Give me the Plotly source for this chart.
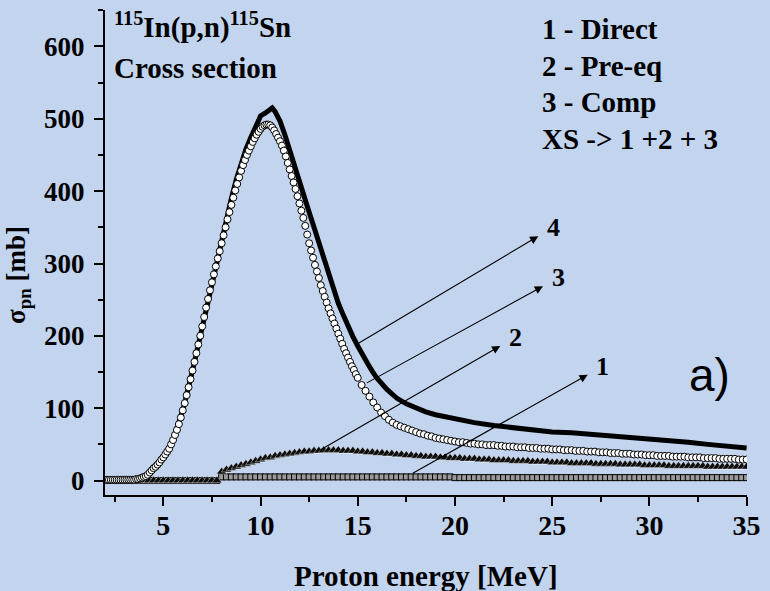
import numpy as np
import plotly.graph_objects as go

# ---------------- data ----------------
# Compound (3): 0.1 MeV steps 2.0-15.0, then 0.2 MeV steps 15.2-35.0
comp_energy = list(np.round(np.arange(2.0, 15.0001, 0.1), 2)) + list(np.round(np.arange(15.2, 35.0001, 0.2), 2))
comp_xs = [
    1, 1, 1, 1, 1, 1, 1, 1, 1, 1,
    1, 1, 1, 1, 1, 1, 2, 2, 3, 4,
    5, 6, 8, 11, 14, 17, 19, 22, 25, 29,
    32, 36, 40, 44, 50, 56, 63, 70, 78, 87,
    97, 107, 118, 129, 140, 152, 164, 176, 188, 200,
    213, 226, 239, 251, 263, 274, 285, 296, 307, 317,
    328, 339, 350, 361, 371, 381, 391, 401, 410, 419,
    428, 436, 443, 450, 456, 462, 468, 473, 478, 482,
    486, 489, 491, 492, 492, 491, 488, 484, 479, 474,
    469, 463, 456, 448, 439, 430, 421, 412, 403, 393,
    383, 373, 363, 352, 340, 328, 318, 308, 298, 289,
    280, 270, 262, 254, 246, 238, 231, 224, 217, 210,
    203, 196, 189, 182, 176, 170, 164, 158, 153, 147,
    142,
    132, 124, 116, 108, 101, 94, 89, 84, 80, 77,
    75, 73, 71, 69, 67, 65, 64, 62, 61, 59,
    58, 57, 56, 55, 54, 53, 53, 52, 51, 51,
    50, 50, 49, 49, 49, 48, 48, 47, 47, 47,
    46, 46, 46, 45, 45, 45, 44, 44, 44, 43,
    43, 43, 42, 42, 42, 41, 41, 41, 40, 40,
    40, 39, 39, 39, 38, 38, 38, 37, 37, 37,
    36, 36, 36, 35, 35, 35, 34, 34, 34, 34,
    33, 33, 33, 33, 32, 32, 32, 32, 31, 31,
    31, 31, 30, 30, 30, 30, 30, 29, 29, 29,
]

# Direct (1) and Pre-equilibrium (2): 0.25 MeV steps 2.0-35.0
grid_energy = list(np.round(np.arange(2.0, 35.0001, 0.25), 2))
preeq_xs = [
    0, 0, 0, 0, 0, 0, 0, 0, 0, 0,
    0, 0, 0, 0, 0, 0, 0, 0, 0, 0,
    0, 0, 0, 0, 12, 15, 17, 19, 21, 23,
    25, 27, 29, 31, 32, 34, 35, 36, 37, 38,
    39, 40, 40, 41, 41, 42, 42, 42, 42, 41,
    41, 41, 40, 40, 39, 39, 38, 38, 37, 37,
    36, 36, 35, 35, 34, 34, 33, 33, 33, 32,
    32, 31, 31, 31, 30, 30, 30, 29, 29, 29,
    28, 28, 28, 28, 27, 27, 27, 27, 26, 26,
    26, 26, 25, 25, 25, 25, 24, 24, 24, 24,
    24, 23, 23, 23, 23, 23, 22, 22, 22, 22,
    22, 21, 21, 21, 21, 21, 20, 20, 20, 20,
    20, 20, 20, 20, 19, 19, 19, 19, 19, 19,
    19, 19, 19,
]
direct_xs = [
    0, 0, 0, 0, 0, 0, 0, 0, 0, 0,
    0, 0, 0, 0, 0, 0, 0, 0, 0, 0,
    0, 0, 0, 0, 5, 5, 5, 5, 5, 5,
    5, 5, 5, 5, 5, 5, 5, 5, 5, 5,
    5, 5, 5, 5, 5, 5, 5, 5, 5, 5,
    5, 5, 5, 5, 5, 5, 5, 5, 5, 5,
    5, 5, 5, 5, 5, 5, 5, 5, 5, 5,
    5, 5, 4, 4, 4, 4, 4, 4, 4, 4,
    4, 4, 4, 4, 4, 4, 4, 4, 4, 4,
    4, 4, 4, 4, 4, 4, 4, 4, 4, 4,
    4, 4, 4, 4, 4, 4, 4, 4, 4, 4,
    4, 4, 4, 4, 4, 4, 4, 4, 4, 4,
    4, 4, 4, 4, 4, 4, 4, 4, 4, 4,
    4, 4, 4,
]

# Total XS (4)
total_energy = [2.0, 3.0, 3.5, 4.0, 4.5, 5.0, 5.5, 6.0, 6.5, 7.0, 7.5, 8.0, 8.25, 8.5, 8.75,
                9.0, 9.25, 9.5, 9.75, 10.0, 10.25, 10.5, 10.6, 10.75, 11.0, 11.25, 11.5, 11.75,
                12.0, 12.25, 12.5, 12.75, 13.0, 13.25, 13.5, 13.75, 14.0, 14.25, 14.5, 14.75,
                15.0, 15.25, 15.5, 15.75, 16.0, 16.5, 17.0, 17.5, 18.0, 18.5, 19.0, 20.0, 21.0,
                22.0, 23.0, 24.0, 25.0, 26.0, 27.0, 28.0, 29.0, 30.0, 31.0, 32.0, 33.0, 34.0, 35.0]
total_xs = [1, 1, 1, 4, 17, 32, 56, 97, 152, 213, 274, 330, 358, 390, 416,
            440, 458, 474, 490, 504, 508, 514, 515, 510, 497, 478, 456, 432,
            413, 392, 371, 350, 329, 306, 284, 263, 245, 229, 213, 199,
            186, 173, 162, 151, 141, 126, 114, 106, 100, 95, 91, 85, 80,
            76, 73, 70, 67, 66, 64, 62, 60, 58, 56, 53, 50, 48, 45]

x_ticks = [5, 10, 15, 20, 25, 30, 35]
y_ticks = [0, 100, 200, 300, 400, 500, 600]

assert len(comp_energy) == len(comp_xs), (len(comp_energy), len(comp_xs))
assert len(grid_energy) == len(preeq_xs) == len(direct_xs), (len(grid_energy), len(preeq_xs), len(direct_xs))
assert len(total_energy) == len(total_xs)

# ---------------- figure ----------------
BG = "#c3d4ef"
SERIF = "Liberation Serif, Times New Roman, serif"

fig = go.Figure()
fig.add_trace(go.Scatter(x=total_energy, y=total_xs, mode="lines",
                         line=dict(color="black", width=5), name="XS"))
fig.add_trace(go.Scatter(x=grid_energy, y=direct_xs, mode="markers",
                         marker=dict(symbol="square", size=6, color="#9a9a9a",
                                     line=dict(color="black", width=1)), name="Direct"))
fig.add_trace(go.Scatter(x=grid_energy, y=preeq_xs, mode="markers",
                         marker=dict(symbol="triangle-up", size=9, color="#0d0d0d",
                                     line=dict(color="white", width=0.4)), name="Pre-eq"))
fig.add_trace(go.Scatter(x=comp_energy, y=comp_xs, mode="markers",
                         marker=dict(symbol="circle", size=7, color="white",
                                     line=dict(color="black", width=1)), name="Comp"))

axis_common = dict(showline=True, linecolor="black", linewidth=2, ticks="outside",
                   ticklen=9, tickwidth=2, tickcolor="black", showgrid=False,
                   zeroline=False, mirror=False)

fig.update_layout(
    width=770, height=591,
    margin=dict(l=105, r=23, t=10, b=96),
    paper_bgcolor=BG, plot_bgcolor=BG,
    showlegend=False,
    xaxis=dict(range=[2, 35.02], tickvals=x_ticks,
               minor=dict(dtick=2.5, tick0=0, ticklen=5, tickwidth=2, tickcolor="black", ticks="outside"),
               tickfont=dict(family=SERIF, size=28, color="black", weight="bold"),
               ticklabelstandoff=-5,
               **axis_common),
    yaxis=dict(range=[-20, 650.4], tickvals=y_ticks,
               minor=dict(dtick=50, tick0=0, ticklen=5, tickwidth=2, tickcolor="black", ticks="outside"),
               tickfont=dict(family=SERIF, size=27, color="black", weight="bold"),
               ticklabelstandoff=4,
               **axis_common),
)

def bold(size):
    return dict(family=SERIF, size=size, color="black", weight="bold")

def px_x(px):
    return (px - 105) / 642.0

def px_y(py):
    return (495 - py) / 485.0

annotations = [
    dict(text="Proton energy [MeV]", x=0.5, y=px_y(576), xanchor="center", yanchor="middle", font=bold(29)),
    dict(text="σ<sub>pn</sub> [mb]", x=px_x(18), y=px_y(275), xanchor="center", yanchor="middle",
         textangle=-90, font=bold(27)),
    dict(text="<sup>115</sup>In(p,n)<sup>115</sup>Sn", x=px_x(112), y=px_y(26), xanchor="left", yanchor="middle", font=bold(29)),
    dict(text="Cross section", x=px_x(112), y=px_y(68), xanchor="left", yanchor="middle", font=bold(29)),
    dict(text="1 - Direct", x=px_x(540), y=px_y(29), xanchor="left", yanchor="middle", font=bold(29)),
    dict(text="2 - Pre-eq", x=px_x(540), y=px_y(66), xanchor="left", yanchor="middle", font=bold(29)),
    dict(text="3 - Comp", x=px_x(540), y=px_y(102), xanchor="left", yanchor="middle", font=bold(29)),
    dict(text="XS -> 1 +2 + 3", x=px_x(540), y=px_y(139), xanchor="left", yanchor="middle", font=bold(29)),
    dict(text="a)", x=px_x(709), y=px_y(375), xanchor="center", yanchor="middle",
         font=dict(family="Liberation Sans", size=46, color="black")),
]
for a in annotations:
    a.update(xref="paper", yref="paper", showarrow=False)

# labelled arrows: label position, and the point on the curve where the arrow's tail sits
arrows = [
    ("4", 25.05, 350, 15.06, 190),
    ("3", 25.3, 280, 15.47, 135),
    ("2", 23.1, 198, 13.05, 42),
    ("1", 27.6, 158, 17.83, 10),
]
for lab, lx, ly, tx, ty in arrows:
    annotations.append(dict(text=lab, ax=lx, ay=ly, x=tx, y=ty,
                            xref="x", yref="y", axref="x", ayref="y",
                            showarrow=True, arrowside="start",
                            startarrowhead=2, startarrowsize=1.5, arrowwidth=1.1,
                            arrowcolor="black", startstandoff=8, standoff=0,
                            font=bold(26)))

fig.update_layout(annotations=annotations)
fig.write_html("out.html")
